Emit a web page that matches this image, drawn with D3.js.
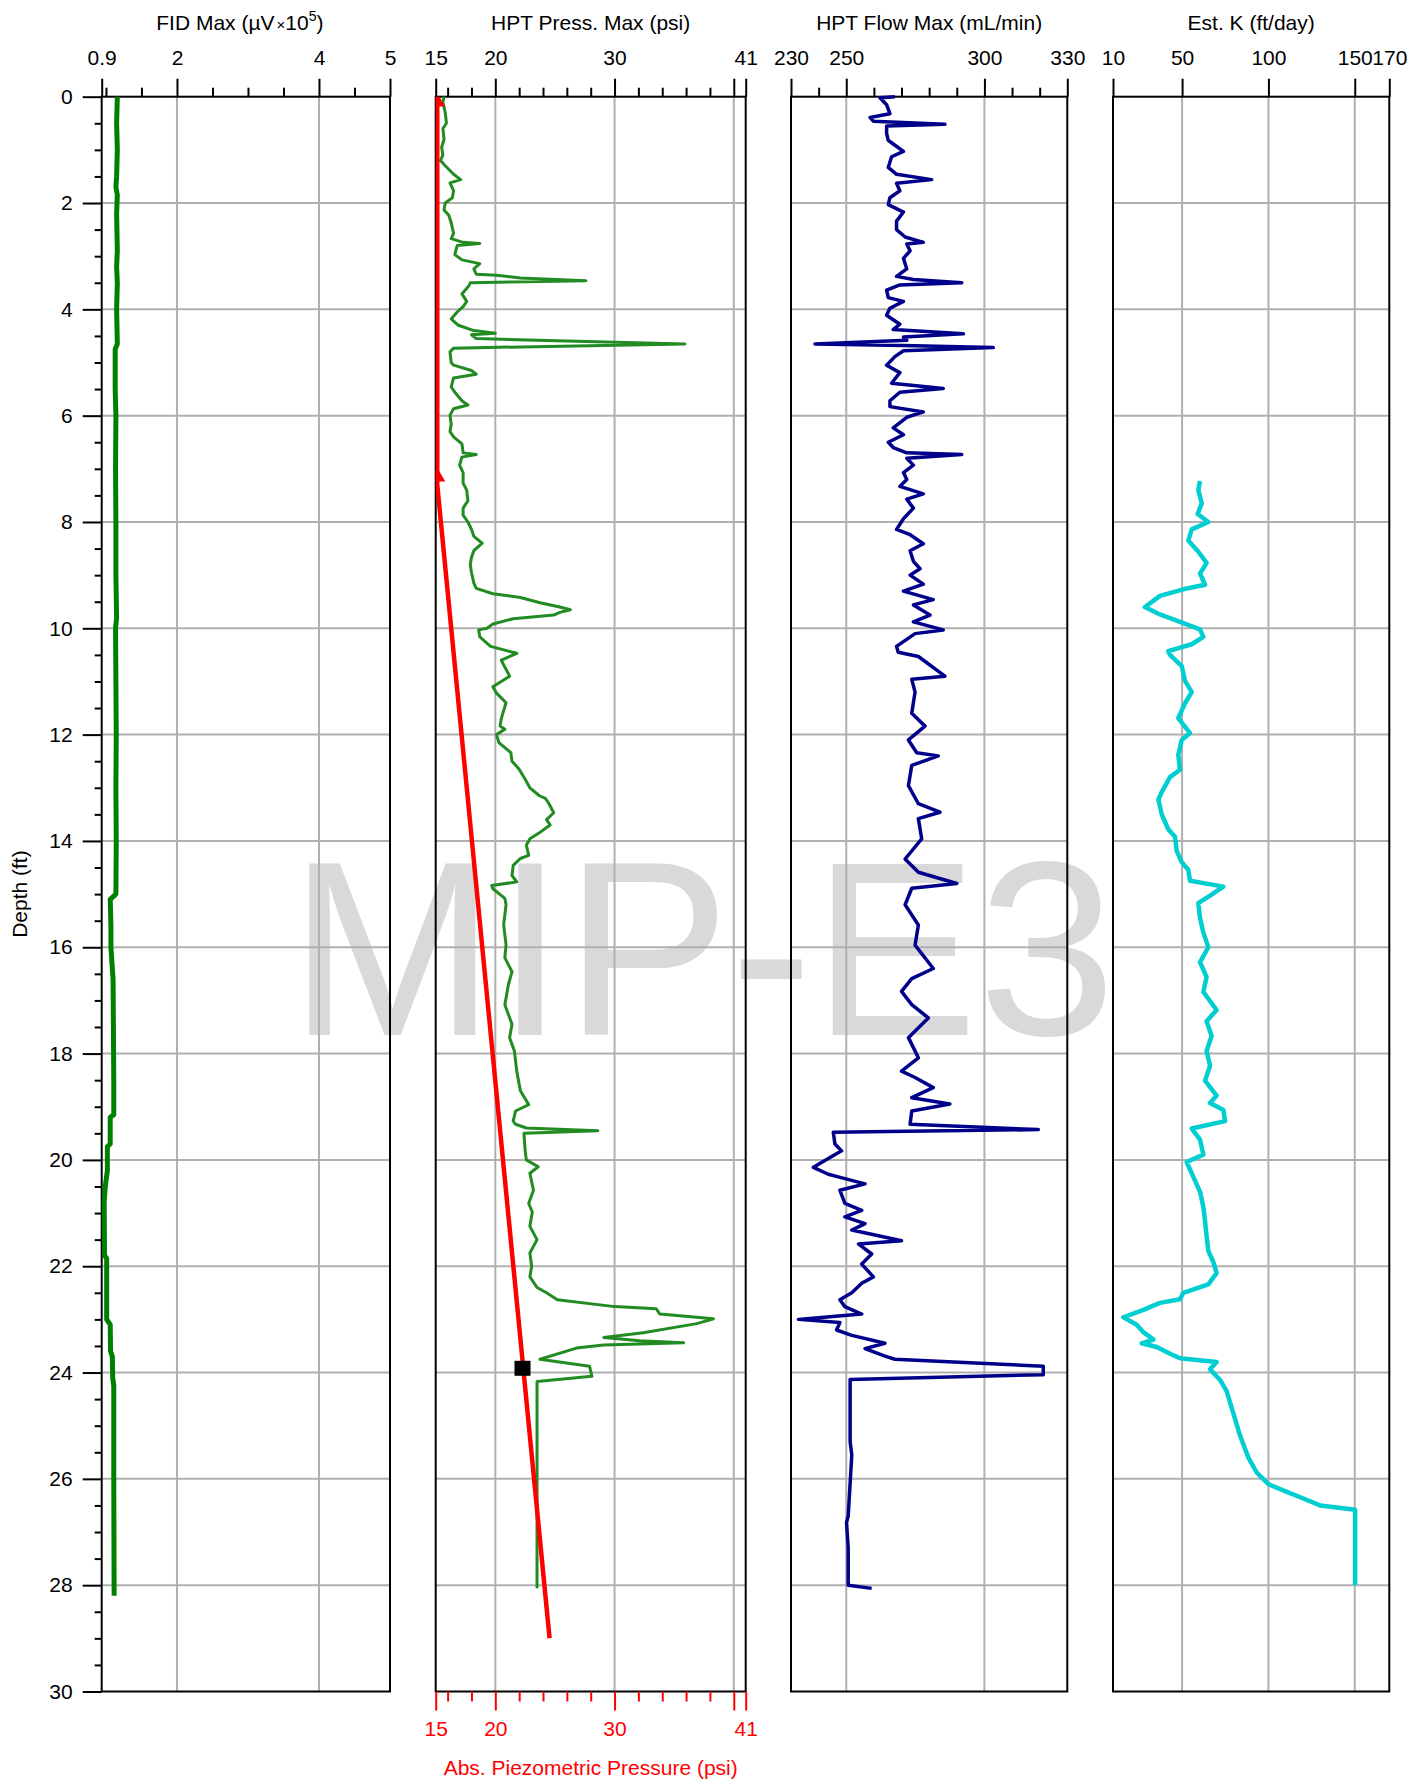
<!DOCTYPE html>
<html><head><meta charset="utf-8">
<script src="https://cdn.jsdelivr.net/npm/d3@7"></script>
<style>body{margin:0;background:#fff;} svg{display:block;}</style>
</head><body>
<svg id="c" width="1421" height="1785"></svg>
<script>
// ---------------- DATA ----------------
const watermark = "MIP-E3";
const depthMajor = [0,2,4,6,8,10,12,14,16,18,20,22,24,26,28,30];
const depthMinor = d3.range(0.5, 30, 0.5).filter(d => d % 2 !== 0);
const depthGrid = [2,4,6,8,10,12,14,16,18,20,22,24,26,28];

const panelTitles = ["FID Max", "HPT Press. Max (psi)", "HPT Flow Max (mL/min)", "Est. K (ft/day)"];
const yTitle = "Depth (ft)";
const bottomTitle = "Abs. Piezometric Pressure (psi)";

const fidDomain = [0.94, 5], fidMajor = [0.94, 2, 4, 5], fidMinor = [1, 1.5, 2.5, 3, 3.5, 4.5], fidGrid = [2, 4];
const pressDomain = [15, 41], pressMajor = [15, 20, 30, 40, 41], pressMinor = [16,18,22,24,26,28,32,34,36,38], pressGrid = [20, 30, 40];
const pressLabels = [15, 20, 30, 41];
const flowDomain = [230, 330], flowMajor = [230, 250, 300, 330], flowMinor = [240,260,270,280,290,310,320], flowGrid = [250, 300];
const kDomain = [10, 170], kMajor = [10, 50, 100, 150, 170], kMinor = [], kGrid = [50, 100, 150];

// [depth ft, value]
const fidData = [[0,1.16],[0.5,1.15],[1.0,1.16],[1.5,1.15],[1.7,1.14],[1.85,1.16],[2.2,1.15],[2.9,1.16],[3.2,1.15],[3.5,1.16],[4.0,1.15],[4.65,1.16],[4.75,1.13],[5.5,1.13],[6.0,1.14],[7.0,1.135],[8.0,1.14],[9.0,1.14],[9.8,1.15],[10.0,1.135],[11.0,1.14],[12.0,1.145],[13.0,1.14],[14.0,1.145],[15.0,1.14],[15.1,1.06],[15.6,1.07],[16.0,1.07],[16.6,1.10],[17.5,1.105],[18.5,1.11],[19.15,1.11],[19.2,1.06],[19.7,1.06],[19.75,1.02],[20.2,1.02],[20.5,0.99],[20.8,0.975],[21.8,0.98],[21.85,1.01],[23.0,1.01],[23.1,1.06],[23.6,1.065],[23.7,1.09],[24.1,1.095],[24.25,1.11],[26.0,1.11],[28.2,1.115]];

const pressData = [[0.0,15.7],[0.1,15.6],[0.3,15.8],[0.5,15.9],[0.6,15.6],[0.8,15.7],[0.95,15.5],[1.1,15.6],[1.2,15.4],[1.3,15.8],[1.46,16.5],[1.56,17.1],[1.62,16.2],[1.77,16.5],[1.9,16.4],[2.0,15.8],[2.13,15.7],[2.23,16.1],[2.37,16.3],[2.57,16.5],[2.67,16.3],[2.74,17.3],[2.76,18.7],[2.8,16.8],[2.97,16.6],[3.07,17.2],[3.14,18.7],[3.24,18.2],[3.34,18.4],[3.36,20.1],[3.41,22.1],[3.46,27.6],[3.5,17.9],[3.55,17.8],[3.71,17.2],[3.85,17.6],[3.95,17.3],[4.05,16.8],[4.18,16.3],[4.3,16.9],[4.4,18.2],[4.45,20.0],[4.48,18.0],[4.55,18.4],[4.65,35.9],[4.73,16.5],[4.8,16.2],[5.0,16.3],[5.05,16.5],[5.15,18.0],[5.22,18.4],[5.29,16.5],[5.46,16.3],[5.56,16.6],[5.72,17.2],[5.8,17.7],[5.87,16.5],[5.99,16.2],[6.16,16.3],[6.3,16.2],[6.4,16.5],[6.53,17.2],[6.7,17.3],[6.73,18.4],[6.78,17.2],[6.93,17.0],[7.07,17.3],[7.27,17.3],[7.4,17.6],[7.6,17.7],[7.74,17.3],[7.87,17.3],[8.0,17.7],[8.14,18.0],[8.27,18.2],[8.4,18.9],[8.54,18.2],[8.67,18.0],[8.8,17.9],[8.95,18.0],[9.15,18.2],[9.25,18.4],[9.35,19.8],[9.42,22.1],[9.52,23.75],[9.6,25.4],[9.65,26.3],[9.7,25.4],[9.75,24.9],[9.82,21.5],[9.92,19.8],[10.0,19.3],[10.03,18.6],[10.16,18.7],[10.34,19.6],[10.47,21.8],[10.6,20.5],[10.9,21.2],[11.1,19.8],[11.22,20.1],[11.4,20.9],[11.7,20.5],[11.84,20.4],[11.9,20.8],[12.0,20.1],[12.15,20.3],[12.34,21.3],[12.5,21.4],[12.65,22.0],[12.84,22.5],[13.0,22.9],[13.15,23.7],[13.2,24.2],[13.3,24.5],[13.47,24.9],[13.6,24.3],[13.7,24.6],[13.83,23.8],[13.96,22.9],[14.08,22.6],[14.27,22.8],[14.33,22.1],[14.46,21.5],[14.65,21.4],[14.77,21.8],[14.84,19.7],[14.9,19.8],[15.08,20.8],[15.2,20.9],[15.58,20.7],[15.95,20.9],[16.2,20.8],[16.46,21.4],[16.7,21.1],[17.08,20.8],[17.45,21.4],[17.7,21.2],[17.95,21.6],[18.33,21.8],[18.7,22.1],[18.96,22.8],[19.08,21.7],[19.27,21.5],[19.33,21.7],[19.4,22.6],[19.45,28.6],[19.5,22.4],[19.82,22.5],[20.0,22.6],[20.13,23.6],[20.25,22.9],[20.57,23.2],[20.82,22.8],[20.98,23.1],[21.25,22.9],[21.5,23.5],[21.75,22.9],[22.0,23.05],[22.2,22.9],[22.4,23.5],[22.5,24.3],[22.63,25.2],[22.76,30.0],[22.8,33.5],[22.9,33.8],[22.99,38.3],[23.08,36.9],[23.25,32.4],[23.34,29.1],[23.4,32.1],[23.44,35.8],[23.48,29.1],[23.54,26.8],[23.75,23.75],[23.88,27.9],[24.07,28.1],[24.17,23.5],[28.06,23.5]];

const piezoLine = [[0,15.13],[7.3,15.13],[29.0,24.55]];
const piezoMarkers = [[0.1,15.13],[7.15,15.13]];
const piezoPoint = [[23.92,22.28]];

const flowData = [[0,267.6],[0.02,262.2],[0.15,264.6],[0.32,265.8],[0.39,258.6],[0.46,259.8],[0.52,285.7],[0.55,264.6],[0.69,264.6],[0.82,265.2],[0.89,267.0],[1.03,270.7],[1.13,266.4],[1.33,265.2],[1.46,268.2],[1.56,280.9],[1.63,268.2],[1.77,269.4],[1.9,265.8],[2.03,265.2],[2.17,270.7],[2.34,268.2],[2.5,268.2],[2.64,271.3],[2.74,277.9],[2.77,271.9],[2.9,273.1],[3.04,270.7],[3.24,271.9],[3.38,268.2],[3.44,274.3],[3.5,291.8],[3.54,269.4],[3.64,264.6],[3.78,265.2],[3.85,270.7],[3.98,265.8],[4.11,264.6],[4.28,269.4],[4.38,267.0],[4.46,292.4],[4.52,270.7],[4.58,271.9],[4.65,238.7],[4.68,270.7],[4.72,303.2],[4.78,270.7],[4.89,267.6],[5.05,264.6],[5.19,269.4],[5.39,266.4],[5.49,285.1],[5.56,269.4],[5.72,265.8],[5.83,265.8],[5.93,277.9],[6.03,271.9],[6.23,267.0],[6.36,270.7],[6.5,265.2],[6.6,267.0],[6.7,271.9],[6.73,291.8],[6.8,271.9],[6.93,274.3],[7.07,270.7],[7.2,271.9],[7.33,269.4],[7.47,277.9],[7.57,271.9],[7.74,274.3],[7.94,270.7],[8.14,268.2],[8.24,273.1],[8.41,277.9],[8.54,273.1],[8.74,274.3],[8.88,276.7],[9.0,273.1],[9.17,277.9],[9.3,270.7],[9.46,281.5],[9.56,274.3],[9.75,280.3],[9.88,274.3],[10.03,285.1],[10.1,274.9],[10.34,268.2],[10.45,268.8],[10.53,276.1],[10.9,285.7],[10.96,273.7],[11.2,274.9],[11.6,273.7],[11.84,278.5],[12.1,272.5],[12.34,275.5],[12.4,283.3],[12.58,273.7],[12.96,272.5],[13.3,276.1],[13.46,283.9],[13.58,276.1],[13.96,277.3],[14.34,271.3],[14.59,276.1],[14.8,290.0],[14.89,273.7],[15.2,271.3],[15.58,276.1],[15.96,274.9],[16.4,281.5],[16.59,273.7],[16.83,270.0],[17.08,273.7],[17.33,279.7],[17.7,272.5],[18.08,276.1],[18.33,270.0],[18.45,274.9],[18.64,281.5],[18.83,273.7],[18.95,287.5],[19.08,273.7],[19.33,273.1],[19.43,319.5],[19.48,245.3],[19.7,245.9],[19.83,248.3],[20.14,238.1],[20.27,243.5],[20.32,247.1],[20.45,256.8],[20.57,247.7],[20.82,249.5],[20.95,255.6],[21.07,249.5],[21.2,256.8],[21.32,252.0],[21.52,270.0],[21.58,254.4],[21.77,259.2],[21.96,255.6],[22.2,259.8],[22.32,255.6],[22.5,252.0],[22.63,247.7],[22.76,249.5],[22.9,255.6],[22.96,242.0],[23.0,232.7],[23.06,247.7],[23.2,246.5],[23.3,252.0],[23.45,264.0],[23.55,256.8],[23.69,264.0],[23.75,267.6],[23.88,321.3],[24.04,321.3],[24.13,251.4],[25.3,251.4],[25.55,252.0],[26.7,250.7],[26.82,250.1],[27.3,250.7],[28.0,250.7],[28.06,259.2]];

const kData = [[7.23,60.4],[7.4,59.4],[7.65,61.4],[7.85,59.0],[8.0,65.2],[8.14,55.6],[8.35,53.6],[8.56,59.4],[8.77,64.2],[8.97,60.4],[9.18,63.3],[9.25,52.7],[9.39,37.2],[9.6,28.5],[9.74,37.2],[9.88,48.8],[10.02,60.4],[10.16,62.3],[10.3,55.6],[10.43,42.0],[10.5,43.0],[10.71,49.8],[10.99,51.7],[11.2,55.6],[11.41,51.7],[11.69,47.8],[11.97,54.6],[12.1,49.8],[12.38,47.8],[12.66,48.8],[12.8,43.0],[13.08,38.2],[13.22,36.3],[13.5,38.2],[13.78,42.0],[13.92,45.9],[14.19,46.9],[14.4,49.8],[14.54,53.6],[14.75,54.6],[14.86,73.9],[15.03,66.2],[15.17,59.4],[15.45,60.4],[15.72,62.3],[16.0,65.2],[16.28,60.4],[16.56,64.2],[16.84,62.3],[17.18,70.0],[17.39,64.2],[17.67,67.1],[17.95,64.2],[18.23,66.2],[18.51,63.3],[18.79,70.0],[18.93,66.2],[19.06,73.9],[19.27,74.9],[19.41,55.6],[19.62,60.4],[19.9,62.3],[20.04,52.7],[20.18,54.6],[20.39,57.5],[20.6,60.4],[20.88,62.3],[21.15,63.3],[21.43,64.2],[21.71,65.2],[21.92,68.1],[22.13,70.0],[22.34,65.2],[22.5,50.7],[22.62,48.8],[22.69,37.2],[22.82,27.6],[22.96,16.0],[23.1,23.7],[23.24,27.6],[23.38,33.4],[23.45,26.6],[23.52,35.3],[23.66,44.0],[23.73,48.8],[23.8,70.0],[23.94,66.2],[24.14,72.0],[24.35,75.8],[24.77,79.7],[25.19,83.6],[25.6,88.4],[25.88,93.2],[26.1,100.0],[26.23,109.6],[26.37,120.2],[26.5,129.9],[26.58,150.2],[28.0,150.2]];

// ---------------- DRAWING ----------------
const FONT = '"Liberation Sans", Arial, Helvetica, sans-serif';
const svg = d3.select("#c");
const yTop = 96.7, yBot = 1691.5;
const y = d3.scaleLinear().domain([0, 30]).range([yTop, yBot]);

// watermark
svg.append("text").attr("x", 289).attr("y", 1034.5)
  .attr("font-family", FONT).attr("font-size", 248).attr("fill", "#d9d9d9")
  .text(watermark);

const layout = [{x0:101.7,x1:390},{x0:435.7,x1:745.7},{x0:791,x1:1067.3},{x0:1113,x1:1389.3}];
const defs = [
  {domain: fidDomain, major: fidMajor, minor: fidMinor, grid: fidGrid, fmt: d => d < 1 ? d.toFixed(1) : String(d)},
  {domain: pressDomain, major: pressMajor, minor: pressMinor, grid: pressGrid, fmt: d => pressLabels.includes(d) ? String(d) : ""},
  {domain: flowDomain, major: flowMajor, minor: flowMinor, grid: flowGrid, fmt: d => String(d)},
  {domain: kDomain, major: kMajor, minor: kMinor, grid: kGrid, fmt: d => String(d)}
];

function styleAxis(g, color, showText) {
  g.select(".domain").remove();
  g.selectAll(".tick line").attr("stroke", color).attr("stroke-width", 2);
  g.selectAll(".tick text").attr("fill", color).attr("font-size", 21).attr("font-family", FONT);
  if (!showText) g.selectAll(".tick text").remove();
}

const xs = [];
defs.forEach((def, i) => {
  const L = layout[i];
  const x = d3.scaleLinear().domain(def.domain).range([L.x0, L.x1]);
  xs.push(x);
  const g = svg.append("g");
  // grid
  g.selectAll(".vg").data(def.grid).join("line")
    .attr("x1", d => x(d)).attr("x2", d => x(d)).attr("y1", yTop).attr("y2", yBot)
    .attr("stroke", "#b0b0b0").attr("stroke-width", 2);
  g.selectAll(".hg").data(depthGrid).join("line")
    .attr("x1", L.x0).attr("x2", L.x1).attr("y1", d => y(d)).attr("y2", d => y(d))
    .attr("stroke", "#b0b0b0").attr("stroke-width", 2);
  // frame
  g.append("rect").attr("x", L.x0).attr("y", yTop).attr("width", L.x1 - L.x0).attr("height", yBot - yTop)
    .attr("fill", "none").attr("stroke", "#000").attr("stroke-width", 2);
  // top axis
  if (def.minor.length) {
    svg.append("g").attr("transform", `translate(0,${yTop})`)
      .call(d3.axisTop(x).tickValues(def.minor).tickSize(9).tickFormat(""))
      .call(s => styleAxis(s, "#000", false));
  }
  svg.append("g").attr("transform", `translate(0,${yTop})`)
    .call(d3.axisTop(x).tickValues(def.major).tickSize(18).tickPadding(14).tickFormat(def.fmt))
    .call(s => styleAxis(s, "#000", true));
  // title
  const t = svg.append("text").attr("x", (L.x0 + L.x1) / 2).attr("y", 30)
    .attr("text-anchor", "middle").attr("font-family", FONT).attr("font-size", 21).attr("fill", "#000");
  if (i === 0) {
    t.attr("x", (L.x0 + L.x1) / 2 - 6);
    t.append("tspan").text("FID Max (\u00B5V");
    t.append("tspan").attr("font-size", 15).attr("dx", 2).text("\u00D7");
    t.append("tspan").text("10");
    t.append("tspan").attr("font-size", 14).attr("dy", -9).text("5");
    t.append("tspan").attr("dy", 9).text(")");
  } else {
    t.text(panelTitles[i]);
  }
});

// depth axis
svg.append("g").attr("transform", `translate(${layout[0].x0},0)`)
  .call(d3.axisLeft(y).tickValues(depthMinor).tickSize(7).tickFormat(""))
  .call(s => styleAxis(s, "#000", false));
svg.append("g").attr("transform", `translate(${layout[0].x0},0)`)
  .call(d3.axisLeft(y).tickValues(depthMajor).tickSize(19).tickPadding(10).tickFormat(d3.format("d")))
  .call(s => styleAxis(s, "#000", true));
svg.append("text").attr("transform", `translate(27,${(yTop + yBot) / 2}) rotate(-90)`)
  .attr("text-anchor", "middle").attr("font-family", FONT).attr("font-size", 21).text(yTitle);

// bottom red axis for pressure panel
const xP = xs[1];
svg.append("g").attr("transform", `translate(0,${yBot})`)
  .call(d3.axisBottom(xP).tickValues(pressMinor).tickSize(10).tickFormat(""))
  .call(s => styleAxis(s, "#ff0000", false));
svg.append("g").attr("transform", `translate(0,${yBot})`)
  .call(d3.axisBottom(xP).tickValues(pressMajor).tickSize(19).tickPadding(11).tickFormat(defs[1].fmt))
  .call(s => styleAxis(s, "#ff0000", true));
svg.append("text").attr("x", (layout[1].x0 + layout[1].x1) / 2).attr("y", 1775)
  .attr("text-anchor", "middle").attr("font-family", FONT).attr("font-size", 21).attr("fill", "#ff0000")
  .text(bottomTitle);

// clip for pressure panel
svg.append("clipPath").attr("id", "clipP").append("rect")
  .attr("x", layout[1].x0).attr("y", yTop).attr("width", layout[1].x1 - layout[1].x0).attr("height", yBot - yTop);

function drawLine(data, x, color, width, clip) {
  const p = svg.append("path").datum(data)
    .attr("d", d3.line().x(d => x(d[1])).y(d => y(d[0])))
    .attr("fill", "none").attr("stroke", color).attr("stroke-width", width)
    .attr("stroke-linejoin", "round").attr("stroke-linecap", "butt");
  if (clip) p.attr("clip-path", `url(#${clip})`);
  return p;
}

drawLine(fidData, xs[0], "#008000", 5);
drawLine(pressData, xs[1], "#228b22", 3);
drawLine(piezoLine, xs[1], "#ff0000", 4.5, "clipP");
svg.append("g").attr("clip-path", "url(#clipP)").selectAll("path").data(piezoMarkers).join("path")
  .attr("d", d3.symbol(d3.symbolTriangle, 110))
  .attr("transform", d => `translate(${xP(d[1])},${y(d[0])})`)
  .attr("fill", "#ff0000");
svg.selectAll(".sq").data(piezoPoint).join("rect")
  .attr("x", d => xP(d[1]) - 8).attr("y", d => y(d[0]) - 7.5).attr("width", 16).attr("height", 15)
  .attr("fill", "#000");
drawLine(flowData, xs[2], "#00008b", 3.5);
drawLine(kData, xs[3], "#00ced1", 4.5);
</script>
</body></html>
